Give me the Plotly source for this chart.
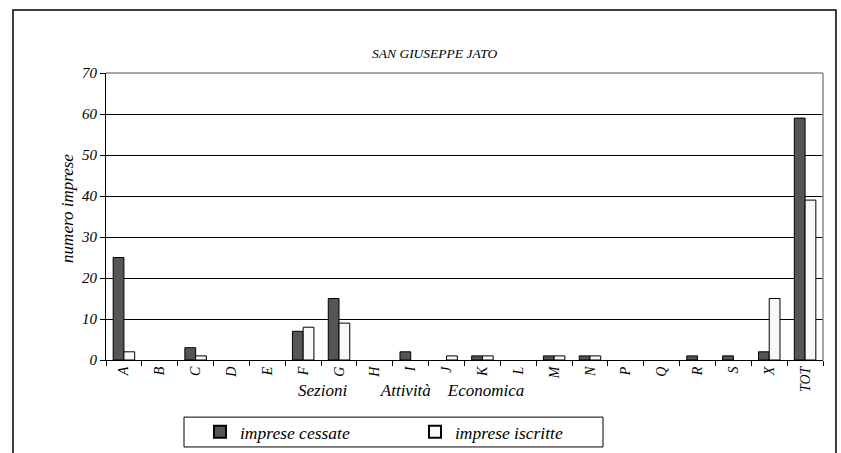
import plotly.graph_objects as go

sezioni = ["A", "B", "C", "D", "E", "F", "G", "H", "I", "J", "K", "L",
           "M", "N", "P", "Q", "R", "S", "X", "TOT"]
cessate = [25, 0, 3, 0, 0, 7, 15, 0, 2, 0, 1, 0, 1, 1, 0, 0, 1, 1, 2, 59]
iscritte = [2, 0, 1, 0, 0, 8, 9, 0, 0, 1, 1, 0, 1, 1, 0, 0, 0, 0, 15, 39]

serif = "Liberation Serif, Times New Roman, serif"


def no_zero(values):
    # Excel does not draw an outline for empty bars
    return [v if v else None for v in values]


fig = go.Figure()
fig.add_trace(go.Bar(
    x=sezioni, y=no_zero(cessate), name="imprese cessate",
    marker=dict(color="#555555", line=dict(color="black", width=1))
))
fig.add_trace(go.Bar(
    x=sezioni, y=no_zero(iscritte), name="imprese iscritte",
    marker=dict(color="#f8f8f8", line=dict(color="black", width=1))
))

fig.update_layout(
    width=841, height=453,
    margin=dict(l=106, r=18, t=73, b=93),
    paper_bgcolor="white", plot_bgcolor="white",
    barmode="group", bargap=0.4, bargroupgap=0,
    font=dict(family=serif, color="black"),
    showlegend=True,
    legend=dict(
        orientation="h", xref="container", x=0.2378, xanchor="left",
        yref="container", y=0.0464, yanchor="middle",
        borderwidth=0, bgcolor="rgba(0,0,0,0)",
        font=dict(size=17.5, style="italic"),
        entrywidth=170, itemsizing="constant",
    ),
    annotations=[
        dict(text="SAN GIUSEPPE JATO", xref="paper", yref="paper",
             x=0.458, xanchor="center", y=1.101, showarrow=False,
             font=dict(size=13.5, style="italic")),
        dict(text="Sezioni        Attività    Economica", xref="paper", yref="paper",
             x=0.426, xanchor="center", y=-0.105, yanchor="middle", showarrow=False,
             font=dict(size=17, style="italic")),
        dict(text="numero imprese", xref="paper", yref="paper",
             x=-0.053, xanchor="center", y=0.53, yanchor="middle",
             textangle=-90, showarrow=False,
             font=dict(size=17, style="italic")),
    ],
    shapes=[
        # outer chart border
        dict(type="rect", xref="paper", yref="paper",
             x0=-0.1297, x1=1.0181, y0=-0.35, y1=1.2195,
             line=dict(color="black", width=1.5)),
        # legend box
        dict(type="rect", xref="paper", yref="paper",
             x0=0.1088, x1=0.6932, y0=-0.303, y1=-0.199,
             line=dict(color="black", width=1)),
        dict(type="line", xref="paper", yref="paper",
             x0=0, x1=1, y0=1, y1=1, line=dict(color="#888888", width=1.5)),
        dict(type="line", xref="paper", yref="paper",
             x0=1, x1=1, y0=0, y1=1, line=dict(color="#888888", width=1.5)),
    ],
)

fig.update_xaxes(
    tickangle=-90, tickson="boundaries", ticks="outside", ticklen=5,
    tickcolor="black", showline=True, linecolor="black", linewidth=1,
    tickfont=dict(size=14, style="italic"), showgrid=False, automargin=False,
)
fig.update_yaxes(
    range=[0, 70], dtick=10, ticks="outside", ticklen=5, tickcolor="black",
    showline=True, linecolor="black", linewidth=1,
    showgrid=True, gridcolor="black", gridwidth=1,
    tickfont=dict(size=15, style="italic"), zeroline=False, automargin=False,
)

# the page body has a default 8px margin; drop it so the figure sits at 0,0
fig.write_html("out.html", config={"displayModeBar": False},
               post_script="document.body.style.margin='0';")
